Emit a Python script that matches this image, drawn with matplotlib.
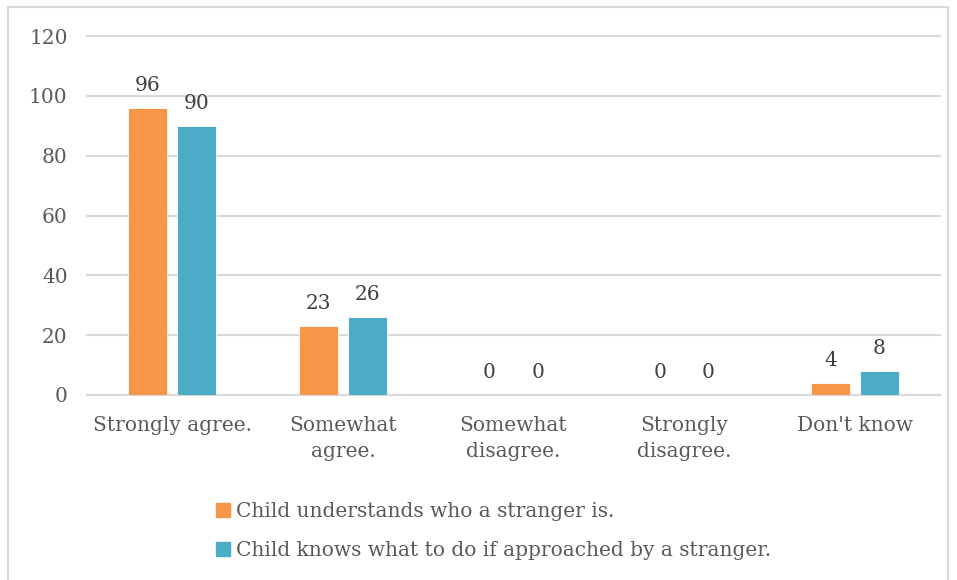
import matplotlib.pyplot as plt
import matplotlib.patches as mpatches
import numpy as np

categories = ['Strongly agree.', 'Somewhat\nagree.', 'Somewhat\ndisagree.', 'Strongly\ndisagree.', "Don't know"]
understands = [96, 23, 0, 0, 4]
knows_what_to_do = [90, 26, 0, 0, 8]
series_names = ['Child understands who a stranger is.',
                'Child knows what to do if approached by a stranger.']

orange = '#F79646'
teal = '#4BACC6'
txt = '#595959'

plt.rcParams['font.family'] = ['DejaVu Serif']

fig = plt.figure(figsize=(9.57, 5.8), dpi=100)
ax = fig.add_axes([87/957, 185/580, 853/957, 359/580])

# outer frame
fig.patches.append(mpatches.Rectangle((8/957, -0.05), 940/957, 1.05 - 7/580,
                                      transform=fig.transFigure, fill=False,
                                      edgecolor='#d9d9d9', linewidth=1.5))

x = np.arange(len(categories))
w = 0.229
off = 0.143
b1 = ax.bar(x - off, understands, w, color=orange, edgecolor='white', linewidth=0.6, zorder=3)
b2 = ax.bar(x + off, knows_what_to_do, w, color=teal, edgecolor='white', linewidth=0.6, zorder=3)

for bars, vals in [(b1, understands), (b2, knows_what_to_do)]:
    for r, v in zip(bars, vals):
        ax.text(r.get_x() + r.get_width()/2, v + 4.3, str(v), ha='center', va='bottom',
                fontsize=14.5, color='#404040')

ax.set_xlim(-0.5, 4.5)
ax.set_ylim(0, 120)
ax.set_yticks(range(0, 121, 20))
ax.yaxis.grid(True, color='#d9d9d9', linewidth=1.5, zorder=0)
for gl in ax.get_ygridlines():
    gl.set_clip_on(False)
for s in ['top', 'right', 'left']:
    ax.spines[s].set_visible(False)
ax.spines['bottom'].set_color('#d9d9d9')
ax.spines['bottom'].set_linewidth(1.5)
ax.tick_params(axis='both', length=0, labelsize=14.5, colors=txt)
ax.tick_params(axis='y', pad=14)
ax.tick_params(axis='x', pad=15)
ax.set_xticks(x)
ax.set_xticklabels(categories, va='top', linespacing=1.5)

handles = [mpatches.Patch(color=orange), mpatches.Patch(color=teal)]
fig.legend(handles, series_names, loc='upper left', bbox_to_anchor=(198/957, 1 - 484/580),
           frameon=False, fontsize=14.5, handlelength=0.7, handleheight=0.7,
           handletextpad=0.3, labelspacing=1.0, labelcolor=txt)

fig.savefig('out.png', dpi=100)
